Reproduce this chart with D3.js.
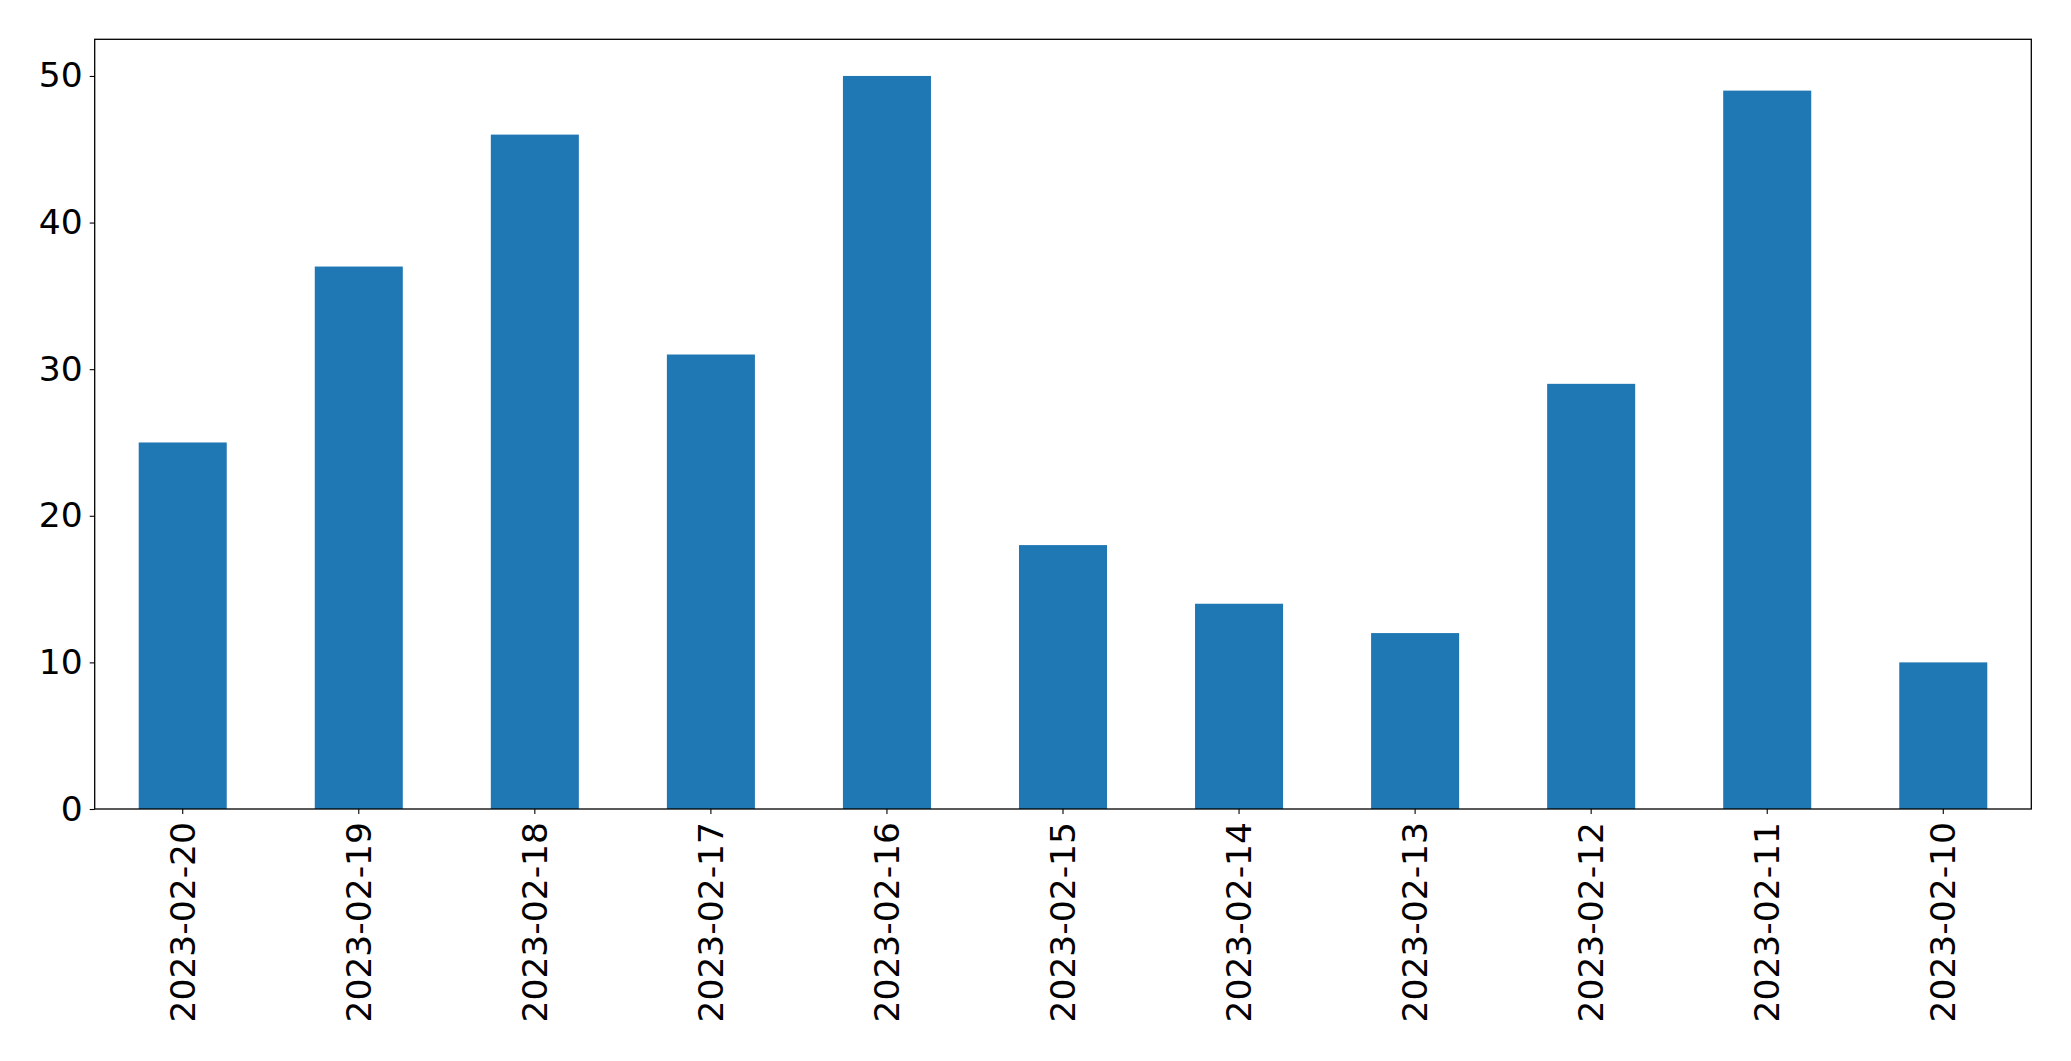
<!DOCTYPE html>
<html>
<head>
<meta charset="utf-8">
<script src="https://cdn.jsdelivr.net/npm/d3@7"></script>
<style>
  html, body { margin: 0; padding: 0; background: #fff; }
  svg { display: block; }
</style>
</head>
<body>
<script>
const categories = ["2023-02-20","2023-02-19","2023-02-18","2023-02-17","2023-02-16","2023-02-15","2023-02-14","2023-02-13","2023-02-12","2023-02-11","2023-02-10"];
const values = [25, 37, 46, 31, 50, 18, 14, 12, 29, 49, 10];
const yTicks = [0, 10, 20, 30, 40, 50];

const W = 2071, H = 1061;
const mLeft = 94.7, mRight = 2031.3, mTop = 39.3, mBottom = 809;
const fontFamily = "'DejaVu Sans', sans-serif";
const fontSize = 34.5;

const svg = d3.select("body").append("svg").attr("width", W).attr("height", H);

const x = d3.scaleBand().domain(categories).range([mLeft, mRight]).paddingInner(0.5).paddingOuter(0.25);
const y = d3.scaleLinear().domain([0, 52.5]).range([mBottom, mTop]);

svg.append("g").selectAll("rect").data(values).join("rect")
  .attr("x", (d, i) => x(categories[i]))
  .attr("width", x.bandwidth())
  .attr("y", d => y(d))
  .attr("height", d => y(0) - y(d))
  .attr("fill", "#1f77b4");

const yAxis = svg.append("g").attr("transform", `translate(${mLeft},0)`)
  .call(d3.axisLeft(y).tickValues(yTicks).tickSize(5).tickPadding(7).tickFormat(d3.format("d")));
yAxis.select(".domain").remove();
yAxis.selectAll("line").attr("stroke", "#000").attr("stroke-width", 1.1);
yAxis.selectAll("text").attr("font-family", fontFamily).attr("font-size", fontSize).attr("fill", "#000");

const xAxis = svg.append("g").attr("transform", `translate(0,${mBottom})`)
  .call(d3.axisBottom(x).tickSize(5).tickPadding(0));
xAxis.select(".domain").remove();
xAxis.selectAll("line").attr("stroke", "#000").attr("stroke-width", 1.1);
xAxis.selectAll("text")
  .attr("font-family", fontFamily).attr("font-size", fontSize).attr("fill", "#000")
  .attr("transform", "rotate(-90)")
  .attr("text-anchor", "end")
  .attr("dy", "0.35em")
  .attr("x", -13)
  .attr("y", 0);

svg.append("rect")
  .attr("x", mLeft).attr("y", mTop)
  .attr("width", mRight - mLeft).attr("height", mBottom - mTop)
  .attr("fill", "none").attr("stroke", "#000").attr("stroke-width", 1.3);
</script>
</body>
</html>
